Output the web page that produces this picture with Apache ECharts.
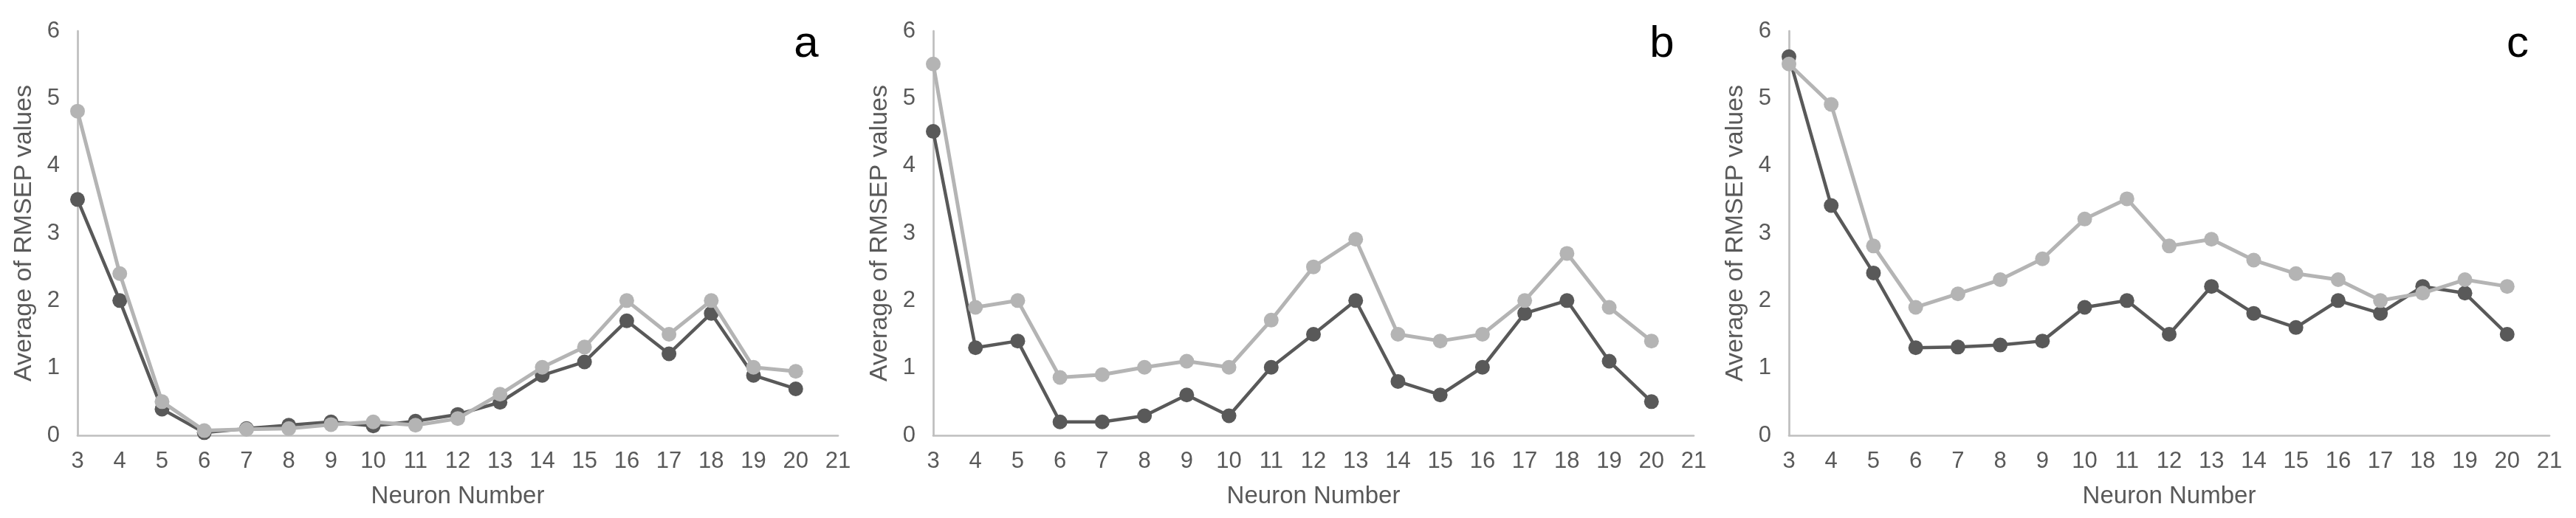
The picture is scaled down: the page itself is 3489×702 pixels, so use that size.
<!DOCTYPE html>
<html>
<head>
<meta charset="utf-8">
<script src="https://cdn.jsdelivr.net/npm/echarts@6/dist/echarts.min.js"></script>
<style>
  html, body { margin: 0; padding: 0; background: #fff; }
  #chart { width: 3489px; height: 702px; }
</style>
</head>
<body>
<div id="chart"></div>
<script>
// neuron numbers on the x axis (3..21), series cover 3..20
var neuronLabels = ['3', '4', '5', '6', '7', '8', '9', '10', '11', '12', '13', '14', '15', '16', '17', '18', '19', '20', '21'];
var panelNames = ['a', 'b', 'c'];

// panel a
var aDark = [3.5, 2.0, 0.39, 0.04, 0.1, 0.15, 0.2, 0.14, 0.21, 0.31, 0.49, 0.89, 1.09, 1.7, 1.21, 1.81, 0.89, 0.69];
var aLight = [4.81, 2.4, 0.5, 0.07, 0.09, 0.1, 0.16, 0.2, 0.15, 0.25, 0.61, 1.01, 1.31, 2.0, 1.5, 2.0, 1.01, 0.95];
// panel b
var bDark = [4.51, 1.3, 1.4, 0.2, 0.2, 0.29, 0.6, 0.29, 1.01, 1.5, 2.0, 0.8, 0.6, 1.01, 1.81, 2.0, 1.1, 0.5];
var bLight = [5.51, 1.9, 2.0, 0.86, 0.9, 1.01, 1.1, 1.01, 1.71, 2.5, 2.91, 1.5, 1.4, 1.5, 2.0, 2.7, 1.9, 1.4];
// panel c
var cDark = [5.62, 3.41, 2.41, 1.3, 1.31, 1.34, 1.4, 1.9, 2.0, 1.5, 2.21, 1.81, 1.6, 2.0, 1.81, 2.21, 2.11, 1.5];
var cLight = [5.51, 4.91, 2.81, 1.9, 2.1, 2.31, 2.62, 3.21, 3.51, 2.81, 2.91, 2.6, 2.4, 2.31, 2.0, 2.11, 2.31, 2.21];

var yMin = 0, yMax = 6, yStep = 1;

var darkData = [aDark, bDark, cDark];
var lightData = [aLight, bLight, cLight];

var FONT = '"Liberation Sans", Arial, sans-serif';
var TEXT = '#595959';
var AXIS = '#bfbfbf';
var DARK = '#595959';
var LIGHT = '#b4b4b4';

var gridLefts = [105, 1264, 2423];
var gridW = 1030;

var grids = [], xAxes = [], yAxes = [], series = [], titles = [];

gridLefts.forEach(function (left, i) {
  grids.push({ left: left, top: 42, width: gridW, height: 548 });
  xAxes.push({
    type: 'category',
    gridIndex: i,
    data: neuronLabels,
    boundaryGap: false,
    name: 'Neuron Number',
    nameLocation: 'middle',
    nameGap: 66,
    nameTextStyle: { fontFamily: FONT, fontSize: 33, color: TEXT },
    axisTick: { show: false },
    axisLine: { show: true, lineStyle: { color: AXIS, width: 2.7 } },
    axisLabel: { fontFamily: FONT, fontSize: 31, color: TEXT, margin: 20, interval: 0 },
    splitLine: { show: false }
  });
  yAxes.push({
    type: 'value',
    gridIndex: i,
    min: yMin,
    max: yMax,
    interval: yStep,
    name: 'Average of RMSEP values',
    nameLocation: 'middle',
    nameGap: 55,
    nameTextStyle: { fontFamily: FONT, fontSize: 34, color: TEXT },
    axisTick: { show: false },
    axisLine: { show: true, lineStyle: { color: AXIS, width: 2.7 } },
    axisLabel: { fontFamily: FONT, fontSize: 31, color: TEXT, margin: 24 },
    splitLine: { show: false }
  });
  series.push({
    type: 'line',
    xAxisIndex: i,
    yAxisIndex: i,
    data: darkData[i],
    symbol: 'circle',
    symbolSize: 20,
    lineStyle: { color: DARK, width: 4.5 },
    itemStyle: { color: DARK },
    z: 2
  });
  series.push({
    type: 'line',
    xAxisIndex: i,
    yAxisIndex: i,
    data: lightData[i],
    symbol: 'circle',
    symbolSize: 20,
    lineStyle: { color: LIGHT, width: 5 },
    itemStyle: { color: LIGHT },
    z: 3
  });
  titles.push({
    text: panelNames[i],
    left: left + 982,
    top: 25,
    textAlign: 'center',
    textStyle: { fontFamily: FONT, fontSize: 60, fontWeight: 'normal', color: '#000' }
  });
});

var myChart = echarts.init(document.getElementById('chart'));
myChart.setOption({
  animation: false,
  title: titles,
  grid: grids,
  xAxis: xAxes,
  yAxis: yAxes,
  series: series
});
</script>
</body>
</html>
